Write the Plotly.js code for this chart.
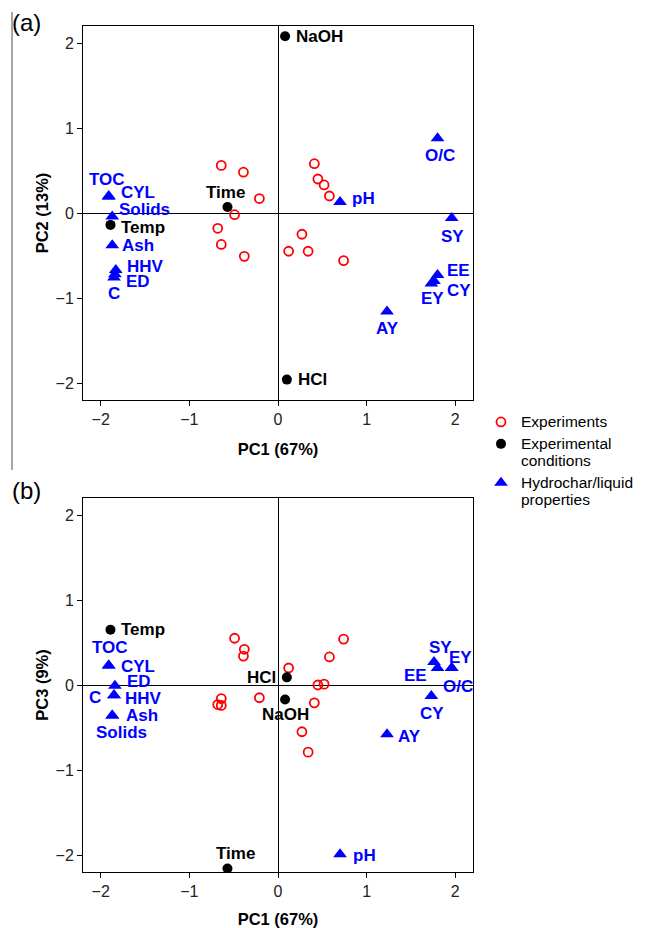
<!DOCTYPE html>
<html>
<head>
<meta charset="utf-8">
<script src="https://cdn.plot.ly/plotly-3.0.1.min.js"></script>
<style>html,body{margin:0;padding:0;background:#fff;}#chart{width:646px;height:928px;}</style>
</head>
<body>
<div id="chart"></div>
<script>
// ---- Data: experiments (scores) ----
const expPC1 = [-0.64, -0.39, -0.21, -0.49, -0.68, -0.64, -0.38, 0.41, 0.45, 0.52, 0.58, 0.27, 0.12, 0.34, 0.74];
const expPC2 = [0.56, 0.48, 0.17, -0.02, -0.18, -0.37, -0.51, 0.58, 0.40, 0.33, 0.20, -0.25, -0.45, -0.45, -0.56];
const expPC3 = [-0.16, 0.34, -0.15, 0.55, -0.23, -0.24, 0.42, -0.21, 0.00, 0.01, 0.33, -0.55, 0.20, -0.79, 0.54];

// ---- Data: experimental conditions ----
const condNames = ['NaOH', 'Time', 'Temp', 'HCl'];
const condPC1 = [0.08, -0.57, -1.89, 0.10];
const condPC2 = [2.08, 0.07, -0.14, -1.96];
const condPC3 = [-0.17, -2.16, 0.65, 0.09];

// ---- Data: hydrochar/liquid properties, panel (a) ----
const propNamesA = ['TOC', 'CYL', 'Solids', 'Ash', 'HHV', 'ED', 'C', 'O/C', 'pH', 'SY', 'EE', 'CY', 'EY', 'AY'];
const propPC1A = [-1.91, -1.91, -1.87, -1.87, -1.83, -1.84, -1.85, 1.80, 0.70, 1.96, 1.80, 1.76, 1.73, 1.23];
const propPC2A = [0.20, 0.19, -0.04, -0.38, -0.67, -0.72, -0.76, 0.88, 0.13, -0.06, -0.73, -0.80, -0.83, -1.16];

// ---- Data: hydrochar/liquid properties, panel (b) ----
const propNamesB = ['TOC', 'CYL', 'ED', 'C', 'HHV', 'Ash', 'Solids', 'SY', 'EE', 'EY', 'O/C', 'CY', 'AY', 'pH'];
const propPC1B = [-1.91, -1.91, -1.84, -1.85, -1.85, -1.87, -1.87, 1.76, 1.80, 1.96, 1.96, 1.73, 1.23, 0.70];
const propPC3B = [0.23, 0.23, -0.01, -0.12, -0.12, -0.36, -0.36, 0.27, 0.20, 0.20, 0.20, -0.13, -0.58, -1.99];

const tickVals = [-2, -1, 0, 1, 2];
const legendNames = ['Experiments', 'Experimental<br>conditions', 'Hydrochar/liquid<br>properties'];

// ---- Label placement (pixel offsets from each point) ----
const condLabelA = {
  'NaOH': {xa: 'left', dx: 9, dy: 0},
  'Time': {xa: 'center', dx: -2, dy: 15},
  'Temp': {xa: 'left', dx: 9, dy: -3},
  'HCl':  {xa: 'left', dx: 9, dy: 0}
};
const condLabelB = {
  'NaOH': {xa: 'center', dx: 0, dy: -15},
  'Time': {xa: 'center', dx: 8, dy: 15},
  'Temp': {xa: 'left', dx: 9, dy: 0},
  'HCl':  {xa: 'right', dx: -9, dy: 0}
};
const propLabelA = {
  'TOC': {xa: 'center', dx: -2, dy: 17},
  'CYL': {xa: 'left', dx: 10, dy: 4},
  'Solids': {xa: 'left', dx: 5, dy: 7},
  'Ash': {xa: 'left', dx: 8, dy: 0},
  'HHV': {xa: 'left', dx: 9, dy: 3},
  'ED': {xa: 'left', dx: 9, dy: -7},
  'C': {xa: 'center', dx: 0, dy: -16},
  'O/C': {xa: 'center', dx: 2, dy: -17},
  'pH': {xa: 'left', dx: 10, dy: 3},
  'SY': {xa: 'center', dx: 1, dy: -18},
  'EE': {xa: 'left', dx: 7, dy: 5},
  'CY': {xa: 'left', dx: 11, dy: -9},
  'EY': {xa: 'center', dx: 1, dy: -15},
  'AY': {xa: 'center', dx: 0, dy: -17}
};
const propLabelB = {
  'TOC': {xa: 'center', dx: 1, dy: 18},
  'CYL': {xa: 'left', dx: 10, dy: -1},
  'ED': {xa: 'left', dx: 10, dy: 4},
  'C': {xa: 'right', dx: -11, dy: -2},
  'HHV': {xa: 'left', dx: 9, dy: -3},
  'Ash': {xa: 'left', dx: 12, dy: 0},
  'Solids': {xa: 'center', dx: 9, dy: -17},
  'SY': {xa: 'center', dx: 6, dy: 15},
  'EE': {xa: 'right', dx: -9, dy: -7},
  'EY': {xa: 'center', dx: 9, dy: 11},
  'O/C': {xa: 'center', dx: 6, dy: -18},
  'CY': {xa: 'center', dx: 1, dy: -17},
  'AY': {xa: 'left', dx: 9, dy: -2},
  'pH': {xa: 'left', dx: 11, dy: -1}
};

const FONT = 'Liberation Sans, Arial, sans-serif';
const BLUE = '#0000ff';
const RED = '#ff0000';

function legText(s) {
  return s.split('<br>').map(t => '<span style="font-size:15.5px">' + t + '</span>').join('<br>');
}

function scatterTraces(xa, ya, ys_exp, ys_cond, xs_prop, ys_prop, showLeg) {
  return [
    {x: expPC1, y: ys_exp, xaxis: xa, yaxis: ya, type: 'scatter', mode: 'markers',
     name: legText(legendNames[0]), legendgroup: 'e', showlegend: showLeg,
     marker: {symbol: 'circle-open', size: 9, color: RED, line: {width: 1.8, color: RED}}},
    {x: condPC1, y: ys_cond, xaxis: xa, yaxis: ya, type: 'scatter', mode: 'markers',
     name: legText(legendNames[1]), legendgroup: 'c', showlegend: showLeg,
     marker: {symbol: 'circle', size: 10, color: '#000'}},
    {x: xs_prop, y: ys_prop, xaxis: xa, yaxis: ya, type: 'scatter', mode: 'markers',
     name: legText(legendNames[2]), legendgroup: 'p', showlegend: showLeg,
     marker: {symbol: 'triangle-up', size: 12, color: BLUE}}
  ];
}

const data = [].concat(
  scatterTraces('x', 'y', expPC2, condPC2, propPC1A, propPC2A, true),
  scatterTraces('x2', 'y2', expPC3, condPC3, propPC1B, propPC3B, false)
);

const annotations = [];
function addLabels(names, xs, ys, table, color, xref, yref) {
  names.forEach((n, i) => {
    const p = table[n];
    annotations.push({
      x: xs[i], y: ys[i], xref: xref, yref: yref, text: n, showarrow: false,
      xanchor: p.xa, yanchor: 'middle', xshift: p.dx, yshift: p.dy,
      font: {family: FONT, size: 17, color: color, weight: 'bold'}
    });
  });
}
addLabels(condNames, condPC1, condPC2, condLabelA, '#000', 'x', 'y');
addLabels(condNames, condPC1, condPC3, condLabelB, '#000', 'x2', 'y2');
addLabels(propNamesA, propPC1A, propPC2A, propLabelA, BLUE, 'x', 'y');
addLabels(propNamesB, propPC1B, propPC3B, propLabelB, BLUE, 'x2', 'y2');

annotations.push({x: 10/646, y: 1 - 23/928, xref: 'paper', yref: 'paper', text: '(a)', showarrow: false,
  xanchor: 'left', yanchor: 'middle', font: {family: FONT, size: 24, color: '#000'}});
annotations.push({x: 10/646, y: 1 - 490/928, xref: 'paper', yref: 'paper', text: '(b)', showarrow: false,
  xanchor: 'left', yanchor: 'middle', font: {family: FONT, size: 24, color: '#000'}});

function axis(extra) {
  return Object.assign({
    range: [-2.2, 2.2], tickvals: tickVals, ticks: 'outside', ticklen: 5, tickwidth: 1, tickcolor: '#000',
    showline: true, linecolor: '#000', linewidth: 1, mirror: true, showgrid: false,
    zeroline: true, zerolinecolor: '#000', zerolinewidth: 1,
    tickfont: {family: FONT, size: 16, color: '#222'}, fixedrange: true
  }, extra);
}
const titleFont = {family: FONT, size: 16.5, color: '#000', weight: 'bold'};

const layout = {
  width: 646, height: 928,
  margin: {l: 0, r: 0, t: 0, b: 0},
  paper_bgcolor: '#fff', plot_bgcolor: '#fff',
  showlegend: true,
  legend: {x: 481/646, y: 1 - 407/928, xanchor: 'left', yanchor: 'top',
           font: {family: FONT, size: 13, color: '#000'}, valign: 'top', tracegroupgap: 2,
           bgcolor: 'rgba(0,0,0,0)'},
  xaxis: axis({domain: [83/646, 473/646], anchor: 'y',
               title: {text: 'PC1 (67%)', font: titleFont, standoff: 16}}),
  yaxis: axis({domain: [1 - 400/928, 1 - 26/928], anchor: 'x',
               title: {text: 'PC2 (13%)', font: titleFont, standoff: 2}}),
  xaxis2: axis({domain: [83/646, 473/646], anchor: 'y2',
               title: {text: 'PC1 (67%)', font: titleFont, standoff: 16}}),
  yaxis2: axis({domain: [1 - 872/928, 1 - 498/928], anchor: 'x2',
               title: {text: 'PC3 (9%)', font: titleFont, standoff: 2}}),
  annotations: annotations,
  shapes: [{type: 'line', xref: 'paper', yref: 'paper', x0: 12/646, x1: 12/646,
            y0: 1 - 12/928, y1: 1 - 470/928, line: {color: '#888', width: 1.5}}]
};

Plotly.newPlot('chart', data, layout, {displayModeBar: false, staticPlot: true});
</script>
</body>
</html>
